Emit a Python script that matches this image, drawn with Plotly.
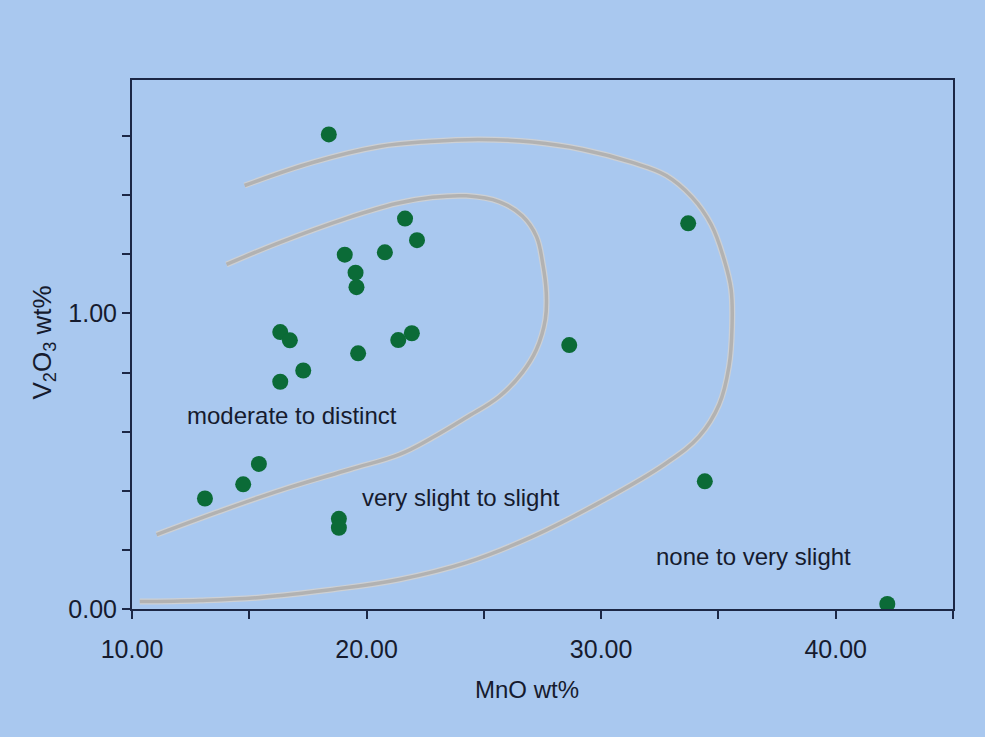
import plotly.graph_objects as go

# --- data -------------------------------------------------------------------
mno = [18.39, 21.64, 22.15, 19.07, 20.78, 19.53, 19.57, 16.32, 16.73, 21.93,
       21.35, 19.64, 17.30, 16.32, 15.41, 14.74, 13.11, 18.82, 18.82,
       33.71, 28.64, 34.42, 42.20]
v2o3 = [1.606, 1.321, 1.248, 1.199, 1.207, 1.138, 1.089, 0.937, 0.909, 0.933,
        0.910, 0.865, 0.807, 0.769, 0.491, 0.422, 0.374, 0.305, 0.275,
        1.305, 0.893, 0.432, 0.017]

# outer boundary (none to very slight | very slight to slight)
outer_x = [14.80, 17.70, 20.55, 22.68, 24.81, 27.07, 29.20, 31.32, 32.77, 33.88,
           34.69, 35.24, 35.54, 35.58, 35.45, 35.03, 34.18, 32.69, 29.92, 27.07,
           24.25, 21.40, 18.55, 15.44, 12.88, 10.33]
outer_y = [1.433, 1.511, 1.565, 1.582, 1.589, 1.580, 1.555, 1.511, 1.467, 1.393,
           1.301, 1.183, 1.081, 0.953, 0.821, 0.692, 0.584, 0.489, 0.360, 0.245,
           0.157, 0.100, 0.066, 0.039, 0.029, 0.025]

# inner boundary (very slight to slight | moderate to distinct)
inner_x = [14.03, 16.29, 19.14, 21.27, 22.81, 24.25, 25.66, 26.64, 27.24, 27.50,
           27.66, 27.62, 27.24, 26.64, 25.66, 24.25, 22.81, 21.40, 19.27, 16.42,
           13.61, 11.05]
inner_y = [1.166, 1.240, 1.322, 1.372, 1.393, 1.398, 1.378, 1.330, 1.261, 1.173,
           1.071, 0.980, 0.878, 0.800, 0.719, 0.648, 0.580, 0.523, 0.472, 0.404,
           0.327, 0.252]

zone_labels = ["moderate to distinct", "very slight to slight", "none to very slight"]
zone_x = [16.82, 24.03, 36.48]
zone_y = [0.655, 0.377, 0.179]

x_major = [10, 20, 30, 40]
x_major_text = ["10.00", "20.00", "30.00", "40.00"]
x_minor = [15, 25, 35, 45]
y_major = [0, 1.0]
y_major_text = ["0.00", "1.00"]
y_minor = [0.2, 0.4, 0.6, 0.8, 1.2, 1.4, 1.6]

# --- styles ------------------------------------------------------------------
BG = "#a9c8ef"
INK = "#161b2e"
AXIS = "#1c2745"
CURVE_EDGE = "#cdd0d4"
CURVE = "#b2b2b2"
DOT = "#0b6b37"
FONT = "Liberation Sans, Arial, Helvetica, sans-serif"

fig = go.Figure()

for cx, cy in [(outer_x, outer_y), (inner_x, inner_y)]:
    fig.add_trace(go.Scatter(x=cx, y=cy, mode="lines",
                             line=dict(color=CURVE_EDGE, width=6, shape="spline", smoothing=1.1),
                             hoverinfo="skip", showlegend=False))
    fig.add_trace(go.Scatter(x=cx, y=cy, mode="lines",
                             line=dict(color=CURVE, width=3.5, shape="spline", smoothing=1.1),
                             hoverinfo="skip", showlegend=False))

fig.add_trace(go.Scatter(x=mno, y=v2o3, mode="markers",
                         marker=dict(color=DOT, size=16, line=dict(width=0)),
                         showlegend=False))

for t, tx, ty in zip(zone_labels, zone_x, zone_y):
    fig.add_annotation(x=tx, y=ty, xref="x", yref="y", text=t, showarrow=False,
                       font=dict(family=FONT, size=24, color=INK),
                       xanchor="center", yanchor="middle")

# axis titles
fig.add_annotation(x=(527 - 132) / 821, y=(609.5 - 690) / 529, xref="paper", yref="paper",
                   text="MnO wt%", showarrow=False,
                   font=dict(family=FONT, size=24, color=INK),
                   xanchor="center", yanchor="middle")
fig.add_annotation(x=(43 - 132) / 821, y=(609.5 - 343) / 529, xref="paper", yref="paper",
                   text="V<sub>2</sub>O<sub>3</sub> wt%", showarrow=False, textangle=-90,
                   font=dict(family=FONT, size=26, color=INK),
                   xanchor="center", yanchor="middle")

fig.update_layout(
    width=985, height=737,
    margin=dict(l=132, r=32, t=80, b=128, autoexpand=False),
    paper_bgcolor=BG, plot_bgcolor=BG,
    font=dict(family=FONT, size=24, color=INK),
    showlegend=False,
)
fig.update_xaxes(range=[10, 45], tickvals=x_major, ticktext=x_major_text,
                 showgrid=False, zeroline=False,
                 showline=True, linecolor=AXIS, linewidth=2, mirror=True,
                 ticks="outside", ticklen=8, tickwidth=2, tickcolor=AXIS,
                 ticklabelstandoff=9,
                 tickfont=dict(family=FONT, size=25, color=INK),
                 minor=dict(tickvals=x_minor, ticks="outside", ticklen=8,
                            tickwidth=2, tickcolor=AXIS, showgrid=False))
fig.update_yaxes(range=[0, 1.79], tickvals=y_major, ticktext=y_major_text,
                 showgrid=False, zeroline=False,
                 showline=True, linecolor=AXIS, linewidth=2, mirror=True,
                 ticks="outside", ticklen=8, tickwidth=2, tickcolor=AXIS,
                 ticklabelstandoff=0,
                 tickfont=dict(family=FONT, size=25, color=INK),
                 minor=dict(tickvals=y_minor, ticks="outside", ticklen=8,
                            tickwidth=2, tickcolor=AXIS, showgrid=False))

fig.write_html("out.html")
